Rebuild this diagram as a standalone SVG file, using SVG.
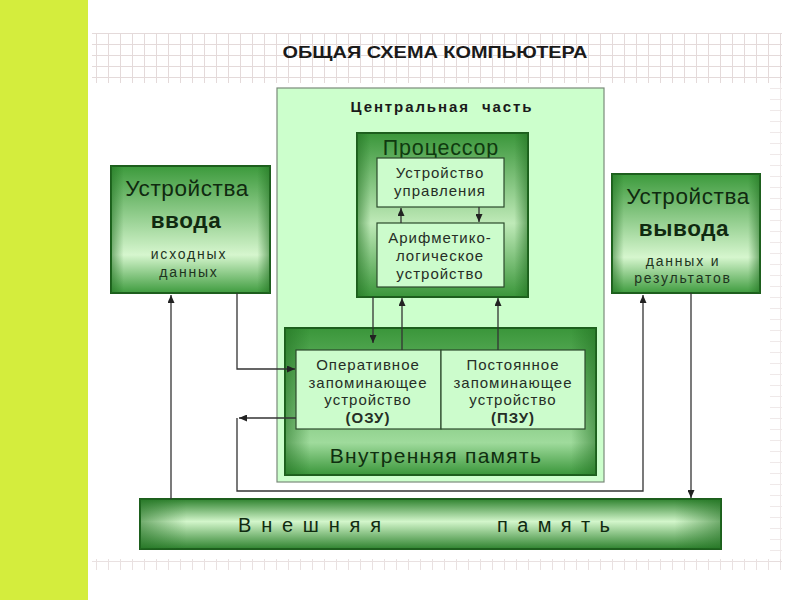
<svg xmlns="http://www.w3.org/2000/svg" width="800" height="600" viewBox="0 0 800 600">
<defs>
<style>
text{font-family:"Liberation Sans",Arial,"Noto Sans",sans-serif;}
.conn{fill:none;stroke:#333;stroke-width:1.3;}
.inner{fill:#ccfccc;stroke:#2c4a2c;stroke-width:1.2;}
.t14{font-size:15px;fill:#262e26;text-anchor:middle;letter-spacing:1px;}
.big{font-size:22.5px;fill:#102a10;text-anchor:middle;letter-spacing:0.6px;}
.mid{font-size:14px;fill:#1e341e;text-anchor:middle;letter-spacing:1.8px;}
.gbox{stroke:#1d5e1d;stroke-width:2;}
</style>
<pattern id="grid" width="12" height="11" patternUnits="userSpaceOnUse">
<path d="M0,0.5 H12 M0.5,0 V11" stroke="#e4dada" stroke-width="1" fill="none"/>
</pattern>
<linearGradient id="gv" x1="0" y1="0" x2="0" y2="1">
<stop offset="0" stop-color="#3c9a3c"/>
<stop offset="0.7" stop-color="#d6f6ce"/>
<stop offset="1" stop-color="#3f9c3f"/>
</linearGradient>
<linearGradient id="gproc" x1="0" y1="0" x2="0" y2="1">
<stop offset="0" stop-color="#3a963a"/>
<stop offset="0.55" stop-color="#bfeab8"/>
<stop offset="1" stop-color="#3a963a"/>
</linearGradient>
<linearGradient id="gmem" x1="0" y1="0" x2="0" y2="1">
<stop offset="0" stop-color="#3a963a"/>
<stop offset="0.78" stop-color="#9fdb9c"/>
<stop offset="1" stop-color="#3a963a"/>
</linearGradient>
<linearGradient id="gext" x1="0" y1="0" x2="0" y2="1">
<stop offset="0" stop-color="#2f832f"/>
<stop offset="0.45" stop-color="#d3f6cb"/>
<stop offset="1" stop-color="#2f832f"/>
</linearGradient>
<linearGradient id="gside" x1="0" y1="0" x2="1" y2="0">
<stop offset="0" stop-color="#1f6e1f" stop-opacity="0.55"/>
<stop offset="0.08" stop-color="#1f6e1f" stop-opacity="0"/>
<stop offset="0.92" stop-color="#1f6e1f" stop-opacity="0"/>
<stop offset="1" stop-color="#1f6e1f" stop-opacity="0.55"/>
</linearGradient>
<marker id="arr" markerUnits="userSpaceOnUse" markerWidth="9" markerHeight="7" refX="8" refY="3.5" orient="auto">
<path d="M0,0 L8,3.5 L0,7 z" fill="#222"/>
</marker>
</defs>

<rect width="800" height="600" fill="#ffffff"/>
<rect x="0" y="0" width="88" height="600" fill="#d4ed3d"/>

<g id="grid-bg">
<rect x="92" y="33" width="690" height="50" fill="url(#grid)"/>
<rect x="770" y="83" width="12" height="480" fill="url(#grid)" opacity="0.6"/>
<rect x="92" y="559" width="690" height="11" fill="url(#grid)" opacity="0.8"/>
</g>

<g id="title">
<text x="435" y="58" font-size="16.5" font-weight="bold" fill="#1a1a1a" text-anchor="middle" textLength="305" lengthAdjust="spacingAndGlyphs">ОБЩАЯ СХЕМА КОМПЬЮТЕРА</text>
</g>

<g id="central">
<rect x="277" y="88" width="327" height="394" fill="#ccffcc" stroke="#7a8a7a" stroke-width="1.2"/>
<text x="442" y="112" font-size="15" font-weight="bold" fill="#1a1a1a" text-anchor="middle" letter-spacing="1.9" xml:space="preserve">Центральная  часть</text>
</g>

<g id="processor">
<rect class="gbox" x="357" y="133" width="171" height="164" fill="url(#gproc)"/>
<rect x="357" y="133" width="171" height="164" fill="url(#gside)"/>
<text x="441" y="155" font-size="21.5" fill="#0f3a0f" text-anchor="middle" letter-spacing="0.8">Процессор</text>
</g>

<g id="control-unit">
<rect class="inner" x="377" y="158" width="127" height="49"/>
<text class="t14" x="440" y="178">Устройство</text>
<text class="t14" x="440" y="196">управления</text>
</g>

<g id="alu">
<rect class="inner" x="377" y="223" width="127" height="64"/>
<text class="t14" x="440" y="243">Арифметико-</text>
<text class="t14" x="440" y="261">логическое</text>
<text class="t14" x="440" y="279">устройство</text>
</g>

<g id="internal-memory">
<rect class="gbox" x="285" y="328" width="311" height="147" fill="url(#gmem)"/>
<rect x="285" y="328" width="311" height="147" fill="url(#gside)"/>
<text x="436" y="463" font-size="21" fill="#0f2f0f" text-anchor="middle" letter-spacing="1.3">Внутренняя память</text>
</g>

<g id="ram">
<rect class="inner" x="296" y="350" width="145" height="79"/>
<text class="t14" x="368" y="370">Оперативное</text>
<text class="t14" x="368" y="388">запоминающее</text>
<text class="t14" x="368" y="405">устройство</text>
<text class="t14" x="368" y="423" font-weight="bold">(ОЗУ)</text>
</g>

<g id="rom">
<rect class="inner" x="441" y="350" width="144" height="79"/>
<text class="t14" x="513" y="370">Постоянное</text>
<text class="t14" x="513" y="388">запоминающее</text>
<text class="t14" x="513" y="405">устройство</text>
<text class="t14" x="513" y="423" font-weight="bold">(ПЗУ)</text>
</g>

<g id="input-devices">
<rect class="gbox" x="111" y="166" width="159" height="127" fill="url(#gv)"/>
<rect x="111" y="166" width="159" height="127" fill="url(#gside)"/>
<text class="big" x="187" y="196">Устройства</text>
<text class="big" x="186" y="228" font-weight="bold">ввода</text>
<text class="mid" x="189" y="259">исходных</text>
<text class="mid" x="189" y="277">данных</text>
</g>

<g id="output-devices">
<rect class="gbox" x="612" y="174" width="148" height="119" fill="url(#gv)"/>
<rect x="612" y="174" width="148" height="119" fill="url(#gside)"/>
<text class="big" x="688" y="204">Устройства</text>
<text class="big" x="684" y="236" font-weight="bold">вывода</text>
<text class="mid" x="683" y="266">данных и</text>
<text class="mid" x="683" y="283">результатов</text>
</g>

<g id="external-memory">
<rect class="gbox" x="140" y="499" width="581" height="50" fill="url(#gext)"/>
<rect x="140" y="499" width="581" height="50" fill="url(#gside)"/>
<text font-size="20" fill="#102a10" y="532">
<tspan x="238" textLength="143" lengthAdjust="spacing">Внешняя</tspan>
<tspan x="497" textLength="113" lengthAdjust="spacing">память</tspan>
</text>
</g>

<g id="connectors">
<path class="conn" d="M401,223 V208" marker-end="url(#arr)"/>
<path class="conn" d="M479,207 V222" marker-end="url(#arr)"/>
<path class="conn" d="M373,297 V343" marker-end="url(#arr)"/>
<path class="conn" d="M402,350 V298" marker-end="url(#arr)"/>
<path class="conn" d="M498,350 V298" marker-end="url(#arr)"/>
<path class="conn" d="M171,499 V295" marker-end="url(#arr)"/>
<path class="conn" d="M237,293 V369 H295" marker-end="url(#arr)"/>
<path class="conn" d="M296,418 H239" marker-end="url(#arr)"/>
<path class="conn" d="M237,418 V491 H643 V295" marker-end="url(#arr)"/>
<path class="conn" d="M691,293 V498" marker-end="url(#arr)"/>
</g>
</svg>
